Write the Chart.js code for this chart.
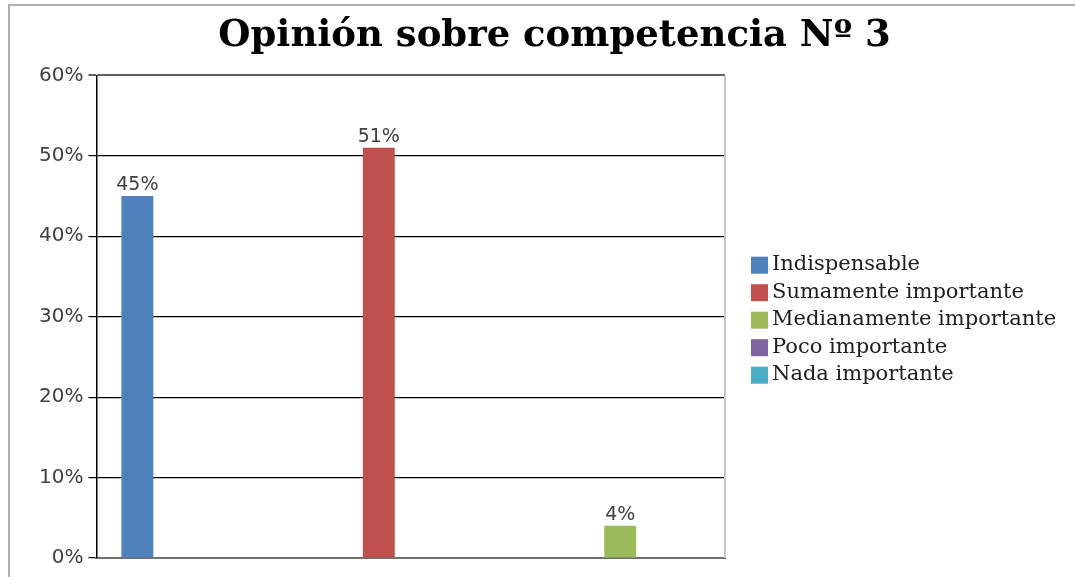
<!DOCTYPE html>
<html>
<head>
<meta charset="utf-8">
<script src="https://cdn.jsdelivr.net/npm/chart.js@4/dist/chart.umd.min.js"></script>
<style>
  body { margin: 0; background: #fff; }
  #wrap { position: relative; width: 1075px; height: 577px; }
  #frame { position: absolute; left: 8px; top: 4px; right: -4px; bottom: -4px;
           border-left: 2px solid #b0b0b0; border-top: 2px solid #b0b0b0; }
  #chart { position: absolute; left: 0; top: 0; }
</style>
</head>
<body>
<div id="wrap">
  <div id="frame"></div>
  <canvas id="chart" width="1075" height="577"></canvas>
</div>
<script>
// three hidden category slots, one series per slot
const categories = ['', '', ''];
const seriesNames = ['Indispensable', 'Sumamente importante', 'Medianamente importante', 'Poco importante', 'Nada importante'];
const seriesColors = ['#4F81BD', '#C0504D', '#9BBB59', '#8064A2', '#4BACC6'];
const indispensable = [45, null, null];
const sumamente = [null, 51, null];
const medianamente = [null, null, 4];
const poco = [null, null, null];
const nada = [null, null, null];
const yTicks = [0, 10, 20, 30, 40, 50, 60];

const seriesValues = [indispensable, sumamente, medianamente, poco, nada];

const datasets = seriesNames.map((name, i) => ({
    label: name,
    data: seriesValues[i],
    backgroundColor: seriesColors[i],
    borderWidth: 0,
    categoryPercentage: 0.762,
    barPercentage: 1
}));

// value labels above each bar
const barLabels = {
    id: 'barLabels',
    afterDatasetsDraw(chart) {
        const ctx = chart.ctx;
        ctx.save();
        ctx.font = '19px "DejaVu Sans"';
        ctx.fillStyle = '#404040';
        ctx.textAlign = 'center';
        ctx.textBaseline = 'bottom';
        chart.data.datasets.forEach((ds, i) => {
            chart.getDatasetMeta(i).data.forEach((bar, j) => {
                if (ds.data[j] == null) return;
                ctx.fillText(ds.data[j] + '%', bar.x, bar.y - 1);
            });
        });
        ctx.restore();
    }
};

// light right edge of the plot area + legend to the right of it
const sideLegend = {
    id: 'sideLegend',
    beforeDatasetsDraw(chart) {
        const a = chart.chartArea;
        const ctx = chart.ctx;
        ctx.save();
        ctx.strokeStyle = '#c8c8c8';
        ctx.lineWidth = 2;
        ctx.beginPath();
        ctx.moveTo(a.right, a.top);
        ctx.lineTo(a.right, a.bottom);
        ctx.stroke();
        ctx.restore();
    },
    afterDraw(chart) {
        const a = chart.chartArea;
        const ctx = chart.ctx;
        const step = 27.5;
        const items = chart.data.datasets;
        const x0 = a.right + 26;
        const y0 = (a.top + a.bottom) / 2 - step * (items.length - 1) / 2 + 3;
        ctx.save();
        ctx.font = '21px "DejaVu Serif"';
        ctx.textBaseline = 'middle';
        items.forEach((ds, i) => {
            const y = y0 + i * step;
            ctx.fillStyle = ds.backgroundColor;
            ctx.fillRect(x0, y - 8, 17, 17);
            ctx.fillStyle = '#202020';
            ctx.fillText(ds.label, x0 + 21, y);
        });
        ctx.restore();
    }
};

new Chart(document.getElementById('chart').getContext('2d'), {
    type: 'bar',
    data: { labels: categories, datasets: datasets },
    options: {
        responsive: false,
        animation: false,
        layout: { padding: { left: 34, right: 0, top: 6, bottom: 19 } },
        plugins: {
            title: {
                display: true,
                text: 'Opinión sobre competencia Nº 3',
                color: '#000',
                fullSize: true,
                font: { family: '"DejaVu Serif"', size: 37, weight: 'bold' },
                padding: { top: 8, bottom: 17 }
            },
            legend: { display: false },
            tooltip: { enabled: false }
        },
        scales: {
            x: {
                ticks: { display: false },
                grid: { display: false, drawTicks: false },
                border: { display: true, color: '#707070', width: 2 }
            },
            y: {
                min: 0,
                max: 60,
                afterBuildTicks: axis => { axis.ticks = yTicks.map(v => ({ value: v })); },
                ticks: {
                    color: '#404040',
                    font: { family: '"DejaVu Sans"', size: 20 },
                    padding: 5,
                    callback: v => v + '%'
                },
                grid: {
                    color: ctx => ctx.tick && (ctx.tick.value === 60) ? '#606060' : '#000',
                    lineWidth: ctx => ctx.tick && (ctx.tick.value === 60) ? 2 : 1.2,
                    tickLength: 8
                },
                border: { display: true, color: '#000', width: 1.5 }
            },
            // empty right-hand axis that only reserves room for the legend
            legendSpace: {
                type: 'linear',
                position: 'right',
                grid: { display: false, drawTicks: false },
                ticks: { display: false },
                border: { display: false },
                afterFit: axis => { axis.width = 350; }
            }
        }
    },
    plugins: [barLabels, sideLegend]
});
</script>
</body>
</html>
